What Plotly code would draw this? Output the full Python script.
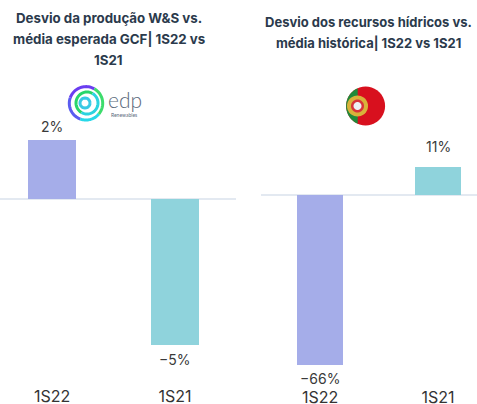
import math
import plotly.graph_objects as go

W, H = 477, 404
categories = ["1S22", "1S21"]
left_values = [2, -5]
right_values = [-66, 11]
bar_colors = ["#a5ade9", "#8fd3dc"]
left_title = ["Desvio da produção W&S vs.", "média esperada GCF| 1S22 vs", "1S21"]
right_title = ["Desvio dos recursos hídricos vs.", "média histórica| 1S22 vs 1S21"]
FONT = "Inter"
TITLE_COLOR = "#2b3a4c"
TEXT_COLOR = "#3a3a3a"


def px(x):
    return x / W


def py(y):
    return 1 - y / H


def arc(cx, cy, r, a0, a1, n=24):
    pts = []
    for i in range(n + 1):
        a = math.radians(a0 + (a1 - a0) * i / n)
        pts.append((px(cx + r * math.cos(a)), py(cy + r * math.sin(a))))
    return "M" + " L".join(f"{a:.5f},{b:.5f}" for a, b in pts)


def sector(cx, cy, r, a0, a1, n=40):
    return arc(cx, cy, r, a0, a1, n) + " Z"


fig = go.Figure()
fig.add_trace(go.Bar(x=categories, y=left_values, xaxis="x", yaxis="y", marker=dict(color=bar_colors, line_width=0),
                     width=0.39, showlegend=False))
fig.add_trace(go.Bar(x=categories, y=right_values, xaxis="x2", yaxis="y2", marker=dict(color=bar_colors, line_width=0),
                     width=0.39, showlegend=False))

shapes = []
# EDP logo rings
rings = [
    (86, 103.3, 16.7, 3, [(40, 110, "#27d8e8"), (110, 200, "#5a5cf0"), (200, 300, "#6a3df0"), (300, 400, "#3ddc6c")]),
    (87, 103, 11, 3, [(120, 300, "#28d66a"), (300, 480, "#2cd3df")]),
    (85, 103, 5, 3, [(0, 360, "#39c9e4")]),
]
for cx, cy, r, w, segs in rings:
    for a0, a1, c in segs:
        shapes.append(dict(type="path", xref="paper", yref="paper", path=arc(cx, cy, r, a0, a1),
                           line=dict(color=c, width=w), layer="above"))
# Portuguese flag badge
fx, fy, fr = 365.6, 106, 19.5
sx = 357.5
for path, col in [
    (sector(fx, fy, fr, 0, 360), "#d8101e"),
    (sector(fx, fy, fr, 114, 246), "#1f8a3a"),
    (sector(sx, fy, 10.5, 0, 360), "#d9b23a"),
    (sector(sx, fy, 6.5, 0, 360), "#d8333a"),
    (sector(sx, fy, 4, 0, 360), "#eef0f4"),
]:
    shapes.append(dict(type="path", xref="paper", yref="paper", path=path, fillcolor=col, line_width=0))

annotations = []
for line, ypos in zip(left_title, [18, 39, 60]):
    annotations.append(dict(text=line, x=px(108.5), y=py(ypos), yanchor="middle", xanchor="center", xref="paper",
                            yref="paper", showarrow=False,
                            font=dict(family=FONT, size=13.3, color=TITLE_COLOR, weight=700)))
for line, ypos in zip(right_title, [22, 43]):
    annotations.append(dict(text=line, x=px(368.8), y=py(ypos), yanchor="middle", xanchor="center", xref="paper",
                            yref="paper", showarrow=False,
                            font=dict(family=FONT, size=13, color=TITLE_COLOR, weight=700)))
annotations += [
    dict(text="edp", x=px(124.5), y=py(99), yanchor="middle", xanchor="center", xref="paper", yref="paper",
         showarrow=False, font=dict(family="Lato", size=21, color="#5a6a7c", weight=300)),
    dict(text="Renewables", x=px(124), y=py(115), yanchor="middle", xanchor="center", xref="paper", yref="paper",
         showarrow=False, font=dict(family="Lato", size=5, color="#5a6a7c")),
]
# value labels, anchored to the bars through the data axes
for xa, ya, vals, shifts in [("x", "y", left_values, [13, -14]), ("x2", "y2", right_values, [-13, 20])]:
    for cat, val, sh in zip(categories, vals, shifts):
        annotations.append(dict(text=f"{val}%".replace("-", "−"), x=cat, y=val, xref=xa, yref=ya, showarrow=False,
                                yshift=sh, xanchor="center", yanchor="middle",
                                font=dict(family=FONT, size=14, color=TEXT_COLOR)))

bottom_l = (H - 385) / H
bottom_r = (H - 386) / H
axis_font = dict(family=FONT, size=16, color="#333333")
fig.update_layout(
    width=W, height=H, margin=dict(l=0, r=0, t=0, b=0), paper_bgcolor="white", plot_bgcolor="white",
    shapes=shapes, annotations=annotations, bargap=0,
    xaxis=dict(domain=[0, 236 / W], range=[-0.423, 1.496], showgrid=False, zeroline=False, showline=False,
               ticks="", tickfont=axis_font, anchor="y", automargin=False),
    xaxis2=dict(domain=[261 / W, 1], range=[-0.5, 1.33], showgrid=False, zeroline=False, showline=False,
                ticks="", tickfont=axis_font, anchor="y2", automargin=False),
    yaxis=dict(domain=[bottom_l, 1], range=[-6.344, 6.752], showgrid=False, showticklabels=False, zeroline=True,
               zerolinecolor="#e3e9f1", zerolinewidth=1.5, anchor="x", automargin=False),
    yaxis2=dict(domain=[bottom_r, 1], range=[-74.15, 75.7], showgrid=False, showticklabels=False, zeroline=True,
                zerolinecolor="#e3e9f1", zerolinewidth=1.5, anchor="x2", automargin=False),
)
fig.write_html("out.html", config={"displayModeBar": False},
               post_script="document.body.style.margin='0';document.documentElement.style.overflow='hidden';document.body.style.overflow='hidden';")
